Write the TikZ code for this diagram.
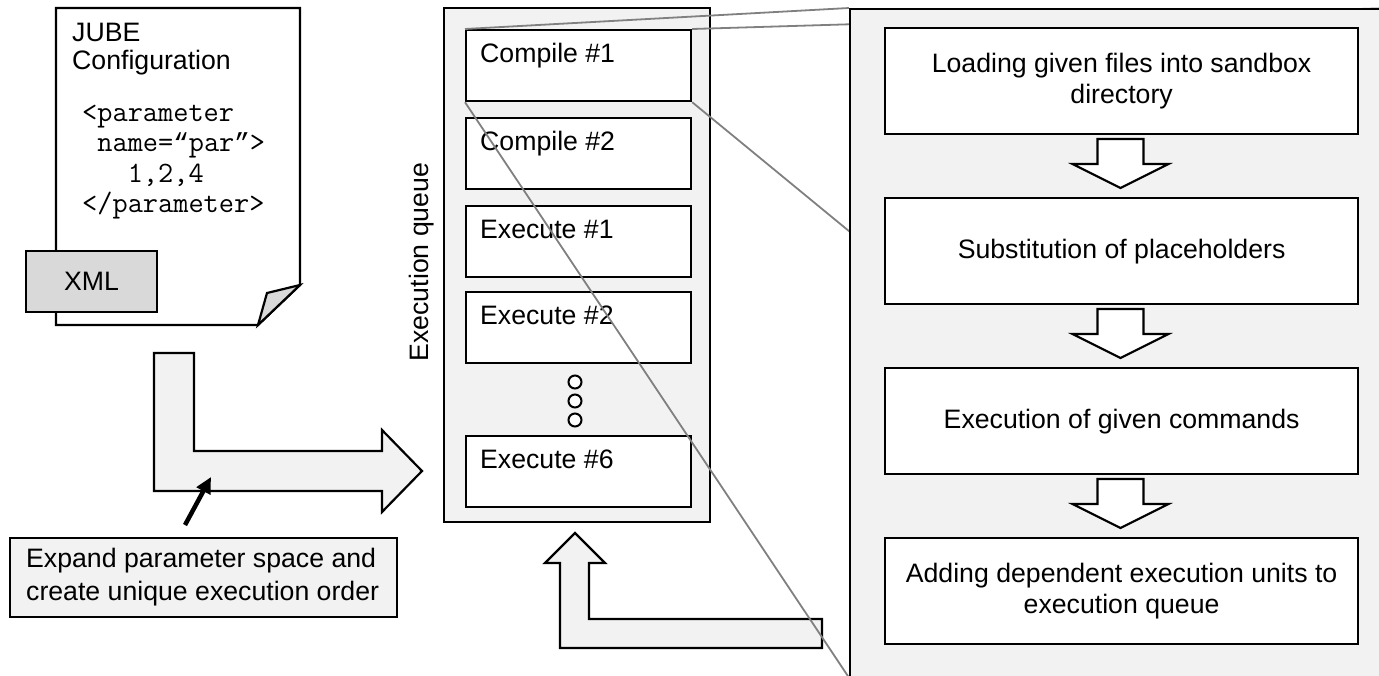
\documentclass[tikz,border=0pt]{standalone}
\usepackage{fontspec}
\setmainfont{Liberation Sans}
\newfontfamily\quotefont{Liberation Mono}
\usetikzlibrary{arrows.meta}
\pgfdeclarelayer{front}
\pgfsetlayers{main,front}
\definecolor{panelgray}{HTML}{F2F2F2}
\definecolor{tabgray}{HTML}{D9D9D9}
\definecolor{calloutgray}{HTML}{808080}
% curly quotes set in a one-character-wide box of the code font
\newcommand{\codequote}[1]{\makebox[15.5pt]{\quotefont\fontsize{26}{31}\selectfont #1}}
\tikzset{
  every node/.style={font=\fontsize{26.67}{31}\selectfont, inner sep=0pt},
  outline/.style={draw=black, line width=2.2pt, line join=miter},
  unitbox/.style={outline, fill=white, minimum width=225pt, minimum height=71pt, anchor=north west},
  unitlabel/.style={anchor=base west},
  codeline/.style={anchor=base west, font=\ttfamily\fontsize{29.5}{31}\selectfont},
  stepbox/.style={outline, fill=white, minimum width=473pt, minimum height=106pt, anchor=north west, align=center},
  blockarrow/.style={outline, fill=panelgray},
  calloutline/.style={draw=calloutgray, line width=1.8pt},
  dot/.style={circle, draw=black, line width=2pt, fill=white, minimum size=13pt},
  pics/steparrow/.style={code={
    \draw[outline, fill=white] (-48,25) -- (-23,25) -- (-23,0) -- (23,0) -- (23,25) -- (48,25) -- (0,49) -- cycle;
  }},
}
\begin{document}
\begin{tikzpicture}[x=1pt, y=-1pt]
\useasboundingbox (0,0) rectangle (1379,675);

% configuration file with folded corner
\draw[outline, fill=white] (56,8) -- (300,8) -- (300,285) -- (258,325) -- (56,325) -- cycle;
\draw[outline, fill=tabgray] (258,325) -- (267,293) -- (300,285) -- cycle;
\node[unitlabel] (jube) at (72,41) {JUBE};
\node[unitlabel] (config) at (72,69) {Configuration};
\node[codeline] (code1) at (82,121) {<parameter};
\node[codeline] (code2) at (82,151) {\ name=\codequote{“}par\codequote{”}>};
\node[codeline] (code3) at (82,182) {\ \ \ 1,2,4};
\node[codeline] (code4) at (82,212) {</parameter>};
\node[outline, fill=tabgray, minimum width=131pt, minimum height=61pt] (xml) at (91.5,281.5) {XML};

% expansion arrow into the queue
\draw[blockarrow] (154,353) -- (194,353) -- (194,451) -- (382,451) -- (382,430) -- (422,471) -- (382,512) -- (382,491) -- (154,491) -- cycle;

% annotation
\node[outline, fill=panelgray, minimum width=387pt, minimum height=79pt, anchor=north west] (expand) at (9,537) {};
\node[unitlabel] (expand1) at (26,567) {Expand parameter space and};
\node[unitlabel] (expand2) at (26,600) {create unique execution order};
\coordinate (ptail) at (185,525);
\coordinate (ptip) at (211,477);
\draw[line width=4.5pt, -{Triangle[length=16pt, width=15pt]}] (ptail) -- (ptip);

% execution queue
\node[outline, fill=panelgray, minimum width=266pt, minimum height=514pt, anchor=north west] (queue) at (443,7) {};
\node[rotate=90] (qlabel) at (422,262) {Execution queue};
\node[unitbox] (c1) at (465,29) {};
\node[unitbox] (c2) at (465,117) {};
\node[unitbox] (e1) at (465,205) {};
\node[unitbox] (e2) at (465,291) {};
\node[unitbox] (e6) at (465,435) {};
\node[unitlabel] (c1t) at (480,62) {Compile \#1};
\node[unitlabel] (c2t) at (480,150) {Compile \#2};
\node[unitlabel] (e1t) at (480,238) {Execute \#1};
\node[unitlabel] (e2t) at (480,324) {Execute \#2};
\node[unitlabel] (e6t) at (480,468) {Execute \#6};
\node[dot] (d1) at (575,382) {};
\node[dot] (d2) at (575,401) {};
\node[dot] (d3) at (575,420) {};

% feedback arrow back into the queue
\draw[blockarrow] (575,533) -- (605,563) -- (589,563) -- (589,619) -- (822,619) -- (822,648) -- (560,648) -- (560,563) -- (545,563) -- cycle;

% detail of one execution unit
\begin{pgfonlayer}{front}
\node[outline, fill=panelgray, minimum width=541pt, minimum height=667.5pt, anchor=north west] (panel) at (849,8) {};
\node[stepbox] (s1) at (884,27) {Loading given files into sandbox\\directory};
\node[stepbox] (s2) at (884,197) {Substitution of placeholders};
\node[stepbox] (s3) at (884,367) {Execution of given commands};
\node[stepbox] (s4) at (884,537) {Adding dependent execution units to\\execution queue};
\pic at (1120.5,139) {steparrow};
\pic at (1120.5,309) {steparrow};
\pic at (1120.5,479) {steparrow};
\end{pgfonlayer}

% zoom lines from the first unit to its detail
\draw[calloutline] (c1.north west) -- (panel.north west);
\draw[calloutline] (c1.north east) -- (panel.north east);
\draw[calloutline] (c1.south west) -- (panel.south west);
\draw[calloutline] (c1.south east) -- (panel.south east);
\end{tikzpicture}
\end{document}
